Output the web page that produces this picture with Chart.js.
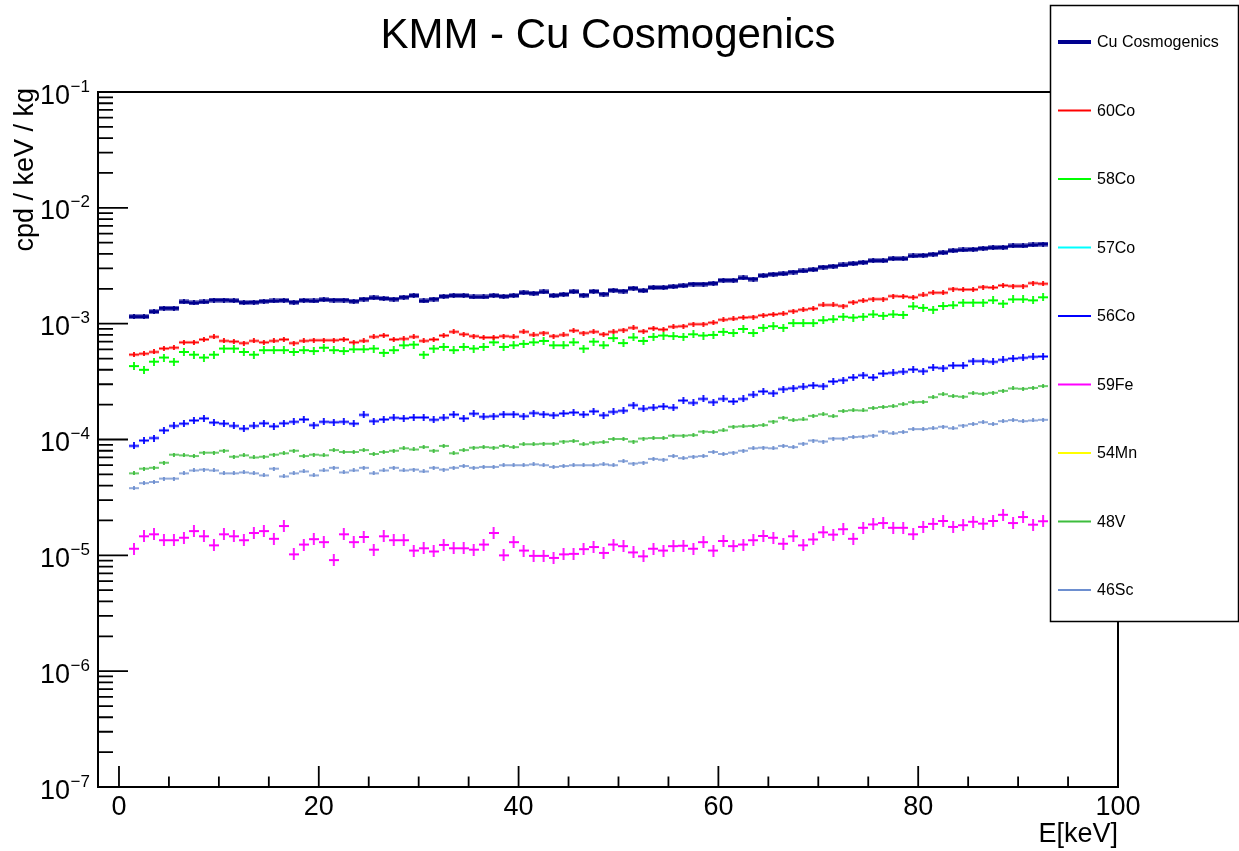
<!DOCTYPE html>
<html>
<head>
<meta charset="utf-8">
<script src="https://cdn.jsdelivr.net/npm/chart.js@4.4.1/dist/chart.umd.min.js"></script>
<style>
  html, body { margin: 0; padding: 0; background: #fff; }
  #wrap { width: 1239px; height: 851px; }
</style>
</head>
<body>
<div id="wrap"><canvas id="kmm" width="1239" height="851"></canvas></div>
<script>
// bin centres [keV], 1 keV bins
const binCenters = [
  1.5, 2.5, 3.5, 4.5, 5.5, 6.5, 7.5, 8.5, 9.5, 10.5, 11.5, 12.5, 13.5, 14.5, 15.5, 16.5, 17.5, 18.5, 19.5, 20.5,
  21.5, 22.5, 23.5, 24.5, 25.5, 26.5, 27.5, 28.5, 29.5, 30.5, 31.5, 32.5, 33.5, 34.5, 35.5, 36.5, 37.5, 38.5, 39.5, 40.5,
  41.5, 42.5, 43.5, 44.5, 45.5, 46.5, 47.5, 48.5, 49.5, 50.5, 51.5, 52.5, 53.5, 54.5, 55.5, 56.5, 57.5, 58.5, 59.5, 60.5,
  61.5, 62.5, 63.5, 64.5, 65.5, 66.5, 67.5, 68.5, 69.5, 70.5, 71.5, 72.5, 73.5, 74.5, 75.5, 76.5, 77.5, 78.5, 79.5, 80.5,
  81.5, 82.5, 83.5, 84.5, 85.5, 86.5, 87.5, 88.5, 89.5, 90.5, 91.5, 92.5
];

// cpd / keV / kg
const cuTotal = [
  1.15e-3, 1.15e-3, 1.27e-3, 1.36e-3, 1.36e-3, 1.54e-3, 1.51e-3, 1.54e-3, 1.60e-3, 1.60e-3,
  1.58e-3, 1.52e-3, 1.53e-3, 1.56e-3, 1.57e-3, 1.59e-3, 1.53e-3, 1.59e-3, 1.57e-3, 1.61e-3,
  1.60e-3, 1.60e-3, 1.56e-3, 1.63e-3, 1.67e-3, 1.65e-3, 1.63e-3, 1.69e-3, 1.75e-3, 1.57e-3,
  1.63e-3, 1.72e-3, 1.75e-3, 1.75e-3, 1.70e-3, 1.70e-3, 1.75e-3, 1.72e-3, 1.75e-3, 1.85e-3,
  1.83e-3, 1.88e-3, 1.75e-3, 1.79e-3, 1.89e-3, 1.76e-3, 1.90e-3, 1.80e-3, 1.94e-3, 1.91e-3,
  2.02e-3, 1.93e-3, 2.05e-3, 2.05e-3, 2.09e-3, 2.13e-3, 2.20e-3, 2.20e-3, 2.23e-3, 2.37e-3,
  2.37e-3, 2.48e-3, 2.43e-3, 2.60e-3, 2.67e-3, 2.70e-3, 2.79e-3, 2.85e-3, 2.93e-3, 3.08e-3,
  3.13e-3, 3.21e-3, 3.30e-3, 3.38e-3, 3.50e-3, 3.50e-3, 3.64e-3, 3.64e-3, 3.84e-3, 3.89e-3,
  3.97e-3, 4.10e-3, 4.27e-3, 4.33e-3, 4.38e-3, 4.47e-3, 4.53e-3, 4.56e-3, 4.69e-3, 4.69e-3,
  4.78e-3, 4.87e-3
];
const co60 = [
  5.4e-4, 5.5e-4, 5.7e-4, 6.1e-4, 6.2e-4, 6.9e-4, 6.9e-4, 7.3e-4, 7.7e-4, 7.1e-4,
  7.0e-4, 6.8e-4, 7.1e-4, 6.9e-4, 7.1e-4, 7.3e-4, 6.8e-4, 7.1e-4, 7.2e-4, 7.2e-4,
  7.2e-4, 7.3e-4, 6.9e-4, 7.1e-4, 7.7e-4, 7.9e-4, 7.3e-4, 7.4e-4, 7.7e-4, 7.1e-4,
  7.3e-4, 7.9e-4, 8.5e-4, 8.1e-4, 7.8e-4, 7.6e-4, 7.6e-4, 7.8e-4, 7.7e-4, 8.5e-4,
  8.0e-4, 8.3e-4, 7.8e-4, 8.0e-4, 8.7e-4, 8.3e-4, 8.5e-4, 8.1e-4, 8.5e-4, 8.8e-4,
  9.2e-4, 8.6e-4, 9.1e-4, 8.9e-4, 9.4e-4, 9.5e-4, 9.9e-4, 9.9e-4, 1.02e-3, 1.08e-3,
  1.10e-3, 1.13e-3, 1.14e-3, 1.18e-3, 1.20e-3, 1.22e-3, 1.28e-3, 1.32e-3, 1.35e-3, 1.45e-3,
  1.45e-3, 1.42e-3, 1.53e-3, 1.58e-3, 1.63e-3, 1.63e-3, 1.73e-3, 1.72e-3, 1.69e-3, 1.77e-3,
  1.85e-3, 1.85e-3, 1.99e-3, 1.97e-3, 1.97e-3, 2.07e-3, 2.05e-3, 2.14e-3, 2.11e-3, 2.11e-3,
  2.24e-3, 2.21e-3
];
const co58 = [
  4.3e-4, 4.0e-4, 4.7e-4, 5.1e-4, 4.7e-4, 5.7e-4, 5.4e-4, 5.1e-4, 5.4e-4, 6.1e-4,
  6.1e-4, 5.7e-4, 5.4e-4, 5.9e-4, 5.9e-4, 5.9e-4, 5.7e-4, 5.9e-4, 5.8e-4, 6.2e-4,
  5.9e-4, 5.8e-4, 6.0e-4, 6.0e-4, 6.1e-4, 5.6e-4, 5.9e-4, 6.5e-4, 6.6e-4, 5.4e-4,
  6.1e-4, 6.3e-4, 5.9e-4, 6.3e-4, 6.1e-4, 6.3e-4, 6.9e-4, 6.3e-4, 6.5e-4, 6.7e-4,
  6.9e-4, 7.1e-4, 6.5e-4, 6.5e-4, 6.9e-4, 6.1e-4, 7.0e-4, 6.5e-4, 7.5e-4, 6.8e-4,
  7.6e-4, 7.1e-4, 7.7e-4, 7.9e-4, 7.8e-4, 7.7e-4, 8.1e-4, 7.9e-4, 8.0e-4, 8.5e-4,
  8.3e-4, 9.0e-4, 8.3e-4, 9.2e-4, 9.5e-4, 9.2e-4, 1.01e-3, 1.01e-3, 1.01e-3, 1.07e-3,
  1.09e-3, 1.15e-3, 1.13e-3, 1.15e-3, 1.20e-3, 1.17e-3, 1.20e-3, 1.19e-3, 1.41e-3, 1.37e-3,
  1.32e-3, 1.42e-3, 1.44e-3, 1.52e-3, 1.52e-3, 1.52e-3, 1.59e-3, 1.49e-3, 1.62e-3, 1.62e-3,
  1.59e-3, 1.69e-3
];
const co57 = [];
const co56 = [
  8.8e-5, 9.8e-5, 1.03e-4, 1.20e-4, 1.31e-4, 1.37e-4, 1.46e-4, 1.52e-4, 1.40e-4, 1.37e-4,
  1.31e-4, 1.24e-4, 1.31e-4, 1.38e-4, 1.30e-4, 1.38e-4, 1.42e-4, 1.49e-4, 1.33e-4, 1.42e-4,
  1.41e-4, 1.42e-4, 1.37e-4, 1.63e-4, 1.44e-4, 1.49e-4, 1.54e-4, 1.52e-4, 1.55e-4, 1.55e-4,
  1.48e-4, 1.54e-4, 1.64e-4, 1.52e-4, 1.67e-4, 1.57e-4, 1.59e-4, 1.65e-4, 1.65e-4, 1.59e-4,
  1.69e-4, 1.65e-4, 1.62e-4, 1.68e-4, 1.71e-4, 1.64e-4, 1.75e-4, 1.62e-4, 1.73e-4, 1.77e-4,
  1.98e-4, 1.84e-4, 1.88e-4, 1.93e-4, 1.88e-4, 2.17e-4, 2.07e-4, 2.24e-4, 2.10e-4, 2.24e-4,
  2.13e-4, 2.24e-4, 2.43e-4, 2.60e-4, 2.51e-4, 2.72e-4, 2.77e-4, 2.85e-4, 2.93e-4, 2.89e-4,
  3.17e-4, 3.25e-4, 3.43e-4, 3.59e-4, 3.43e-4, 3.71e-4, 3.76e-4, 3.84e-4, 4.02e-4, 3.89e-4,
  4.18e-4, 4.13e-4, 4.35e-4, 4.35e-4, 4.75e-4, 4.75e-4, 4.68e-4, 4.87e-4, 5.00e-4, 5.07e-4,
  5.17e-4, 5.21e-4
];
const fe59 = [
  1.14e-5, 1.46e-5, 1.52e-5, 1.35e-5, 1.35e-5, 1.42e-5, 1.62e-5, 1.46e-5, 1.22e-5, 1.52e-5,
  1.46e-5, 1.35e-5, 1.56e-5, 1.62e-5, 1.39e-5, 1.79e-5, 1.02e-5, 1.24e-5, 1.38e-5, 1.30e-5,
  0.91e-5, 1.52e-5, 1.30e-5, 1.44e-5, 1.12e-5, 1.46e-5, 1.35e-5, 1.35e-5, 1.10e-5, 1.15e-5,
  1.08e-5, 1.23e-5, 1.15e-5, 1.15e-5, 1.12e-5, 1.24e-5, 1.56e-5, 1.00e-5, 1.30e-5, 1.10e-5,
  0.99e-5, 0.99e-5, 0.95e-5, 1.02e-5, 1.03e-5, 1.13e-5, 1.18e-5, 1.05e-5, 1.24e-5, 1.20e-5,
  1.06e-5, 0.98e-5, 1.14e-5, 1.10e-5, 1.20e-5, 1.21e-5, 1.14e-5, 1.30e-5, 1.10e-5, 1.33e-5,
  1.20e-5, 1.24e-5, 1.35e-5, 1.47e-5, 1.42e-5, 1.26e-5, 1.46e-5, 1.22e-5, 1.37e-5, 1.58e-5,
  1.51e-5, 1.68e-5, 1.39e-5, 1.73e-5, 1.85e-5, 1.90e-5, 1.73e-5, 1.73e-5, 1.52e-5, 1.76e-5,
  1.87e-5, 1.98e-5, 1.76e-5, 1.82e-5, 1.95e-5, 1.88e-5, 1.98e-5, 2.24e-5, 1.90e-5, 2.14e-5,
  1.84e-5, 1.97e-5
];
const mn54 = [];
const v48 = [
  5.1e-5, 5.6e-5, 5.7e-5, 6.3e-5, 7.4e-5, 7.3e-5, 7.2e-5, 7.7e-5, 7.7e-5, 8.0e-5,
  7.1e-5, 7.3e-5, 7.0e-5, 7.1e-5, 7.4e-5, 7.6e-5, 8.0e-5, 7.2e-5, 7.4e-5, 7.3e-5,
  8.1e-5, 7.8e-5, 7.8e-5, 8.1e-5, 7.5e-5, 7.8e-5, 8.0e-5, 8.4e-5, 8.2e-5, 8.6e-5,
  8.0e-5, 8.8e-5, 7.6e-5, 8.1e-5, 8.5e-5, 8.6e-5, 8.5e-5, 8.8e-5, 8.6e-5, 9.1e-5,
  9.1e-5, 9.2e-5, 9.2e-5, 9.6e-5, 9.7e-5, 9.1e-5, 9.4e-5, 9.5e-5, 1.01e-4, 1.01e-4,
  9.6e-5, 1.02e-4, 1.03e-4, 1.03e-4, 1.08e-4, 1.08e-4, 1.09e-4, 1.17e-4, 1.16e-4, 1.20e-4,
  1.29e-4, 1.30e-4, 1.31e-4, 1.33e-4, 1.43e-4, 1.54e-4, 1.47e-4, 1.49e-4, 1.60e-4, 1.65e-4,
  1.59e-4, 1.76e-4, 1.79e-4, 1.78e-4, 1.87e-4, 1.91e-4, 1.94e-4, 2.02e-4, 2.10e-4, 2.11e-4,
  2.32e-4, 2.46e-4, 2.37e-4, 2.34e-4, 2.51e-4, 2.48e-4, 2.53e-4, 2.63e-4, 2.76e-4, 2.74e-4,
  2.79e-4, 2.89e-4
];
const sc46 = [
  3.8e-5, 4.2e-5, 4.3e-5, 4.6e-5, 4.6e-5, 5.1e-5, 5.4e-5, 5.5e-5, 5.4e-5, 5.1e-5,
  5.1e-5, 5.2e-5, 5.1e-5, 4.9e-5, 5.6e-5, 4.8e-5, 5.1e-5, 5.3e-5, 4.9e-5, 5.4e-5,
  5.7e-5, 5.2e-5, 5.4e-5, 5.7e-5, 5.1e-5, 5.4e-5, 5.7e-5, 5.4e-5, 5.5e-5, 5.3e-5,
  5.7e-5, 5.5e-5, 5.7e-5, 5.9e-5, 5.7e-5, 5.8e-5, 5.8e-5, 6.0e-5, 6.0e-5, 6.0e-5,
  6.1e-5, 6.0e-5, 5.8e-5, 5.9e-5, 6.0e-5, 6.0e-5, 6.0e-5, 6.1e-5, 6.0e-5, 6.5e-5,
  6.2e-5, 6.3e-5, 6.8e-5, 6.7e-5, 7.2e-5, 6.9e-5, 7.1e-5, 7.2e-5, 7.8e-5, 7.5e-5,
  7.7e-5, 8.0e-5, 8.4e-5, 8.5e-5, 8.4e-5, 8.8e-5, 8.6e-5, 9.2e-5, 9.8e-5, 9.6e-5,
  1.02e-4, 1.02e-4, 1.05e-4, 1.06e-4, 1.08e-4, 1.17e-4, 1.13e-4, 1.16e-4, 1.23e-4, 1.23e-4,
  1.25e-4, 1.29e-4, 1.25e-4, 1.32e-4, 1.36e-4, 1.41e-4, 1.36e-4, 1.44e-4, 1.47e-4, 1.44e-4,
  1.46e-4, 1.48e-4
];

const xTicks = [0, 20, 40, 60, 80, 100];
const yDecades = [1, 2, 3, 4, 5, 6, 7];

const FONT = '"Liberation Sans", Arial, Helvetica, sans-serif';

// series styling: [label, values, colour, bar thickness, half error bar]
const series = [
  { label: 'Cu Cosmogenics', data: cuTotal, color: '#00008f', thick: 4, err: 2.5, legendW: 4 },
  { label: '60Co', data: co60, color: '#ff0000', thick: 2, err: 2.5, legendW: 2 },
  { label: '58Co', data: co58, color: '#00ff00', thick: 2, err: 4, legendW: 2 },
  { label: '57Co', data: co57, color: '#00ffff', thick: 2, err: 3, legendW: 2 },
  { label: '56Co', data: co56, color: '#0000ff', thick: 2, err: 3.5, legendW: 2 },
  { label: '59Fe', data: fe59, color: '#ff00ff', thick: 2, err: 6, legendW: 2 },
  { label: '54Mn', data: mn54, color: '#ffff00', thick: 2, err: 3, legendW: 2 },
  { label: '48V', data: v48, color: '#3dbd3d', thick: 1.5, err: 2, legendW: 2 },
  { label: '46Sc', data: sc46, color: '#6d8fd0', thick: 1.5, err: 2, legendW: 2 }
];

// ROOT-style marker: horizontal bin bar + vertical error bar
function makeMarker(color, thick, err) {
  const w = 10;
  const h = Math.max(Math.ceil(thick), Math.ceil(err * 2));
  const c = document.createElement('canvas');
  c.width = w; c.height = h;
  const g = c.getContext('2d');
  g.fillStyle = color;
  g.fillRect(0, h / 2 - thick / 2, w, thick);
  g.fillRect(w / 2 - 0.9, 0, 1.8, h);
  return c;
}

const rootFrame = {
  id: 'rootFrame',
  beforeDatasetsDraw(chart) {
    const ctx = chart.ctx;
    const a = chart.chartArea;
    const xs = chart.scales.x, ys = chart.scales.y;
    ctx.save();
    ctx.strokeStyle = '#000';
    ctx.fillStyle = '#000';
    ctx.lineWidth = 2;
    ctx.strokeRect(a.left, a.top, a.right - a.left, a.bottom - a.top);

    // y ticks (log), drawn inward from the left axis
    ctx.lineWidth = 1.8;
    ctx.beginPath();
    yDecades.forEach(k => {
      const base = Math.pow(10, -k);
      const y = ys.getPixelForValue(base);
      ctx.moveTo(a.left, y); ctx.lineTo(a.left + 30, y);
      if (k > 1) {
        for (let m = 2; m <= 9; m++) {
          const ym = ys.getPixelForValue(base * m);
          ctx.moveTo(a.left, ym); ctx.lineTo(a.left + 15, ym);
        }
      }
    });
    // x ticks, inward from the bottom axis
    for (let v = 0; v <= 100; v += 5) {
      const x = xs.getPixelForValue(v);
      const len = (v % 20 === 0) ? 21 : 10.5;
      ctx.moveTo(x, a.bottom); ctx.lineTo(x, a.bottom - len);
    }
    ctx.stroke();

    // y tick labels 10^-k
    yDecades.forEach(k => {
      const y = ys.getPixelForValue(Math.pow(10, -k));
      ctx.font = '27px ' + FONT;
      ctx.textAlign = 'right';
      ctx.textBaseline = 'alphabetic';
      ctx.fillText('10', 70, y + 11.5);
      ctx.font = '17px ' + FONT;
      ctx.textAlign = 'left';
      ctx.fillText('\u2212' + k, 70.5, y - 0.5);
    });

    // x tick labels
    ctx.font = '27px ' + FONT;
    ctx.textAlign = 'center';
    xTicks.forEach(v => {
      ctx.fillText(String(v), xs.getPixelForValue(v), 815);
    });

    // axis titles
    ctx.textAlign = 'right';
    ctx.fillText('E[keV]', a.right, 842);
    ctx.save();
    ctx.translate(33, 88);
    ctx.rotate(-Math.PI / 2);
    ctx.textAlign = 'right';
    ctx.fillText('cpd / keV / kg', 0, 0);
    ctx.restore();

    // title
    ctx.font = '42px ' + FONT;
    ctx.textAlign = 'center';
    ctx.fillText('KMM - Cu Cosmogenics', 608, 48);
    ctx.restore();
  },
  afterDraw(chart) {
    const ctx = chart.ctx;
    ctx.save();
    ctx.fillStyle = '#fff';
    ctx.fillRect(1050, 5, 189, 617);
    ctx.strokeStyle = '#000';
    ctx.lineWidth = 1.5;
    ctx.strokeRect(1050.5, 5.5, 188, 616);
    ctx.font = '16px ' + FONT;
    ctx.textBaseline = 'middle';
    ctx.textAlign = 'left';
    series.forEach((s, j) => {
      const y = 42 + j * 68.5;
      ctx.strokeStyle = s.color;
      ctx.lineWidth = s.legendW;
      ctx.beginPath();
      ctx.moveTo(1058, y); ctx.lineTo(1091, y);
      ctx.stroke();
      ctx.fillStyle = '#000';
      ctx.fillText(s.label, 1097, y + 1);
    });
    ctx.restore();
  }
};

const datasets = series.filter(s => s.data.length).map(s => ({
  label: s.label,
  data: s.data.map((v, i) => ({ x: binCenters[i], y: v })),
  pointStyle: makeMarker(s.color, s.thick, s.err),
  pointRadius: 5,
  pointHoverRadius: 5,
  showLine: false
}));

new Chart(document.getElementById('kmm'), {
  type: 'scatter',
  data: { datasets },
  options: {
    responsive: false,
    animation: false,
    devicePixelRatio: 1,
    layout: { padding: { left: 98, right: 121, top: 92, bottom: 64 } },
    plugins: { legend: { display: false }, title: { display: false }, tooltip: { enabled: false } },
    scales: {
      x: { type: 'linear', min: -2.1, max: 100, display: false },
      y: { type: 'logarithmic', min: 1e-7, max: 1e-1, display: false }
    }
  },
  plugins: [rootFrame]
});
</script>
</body>
</html>
